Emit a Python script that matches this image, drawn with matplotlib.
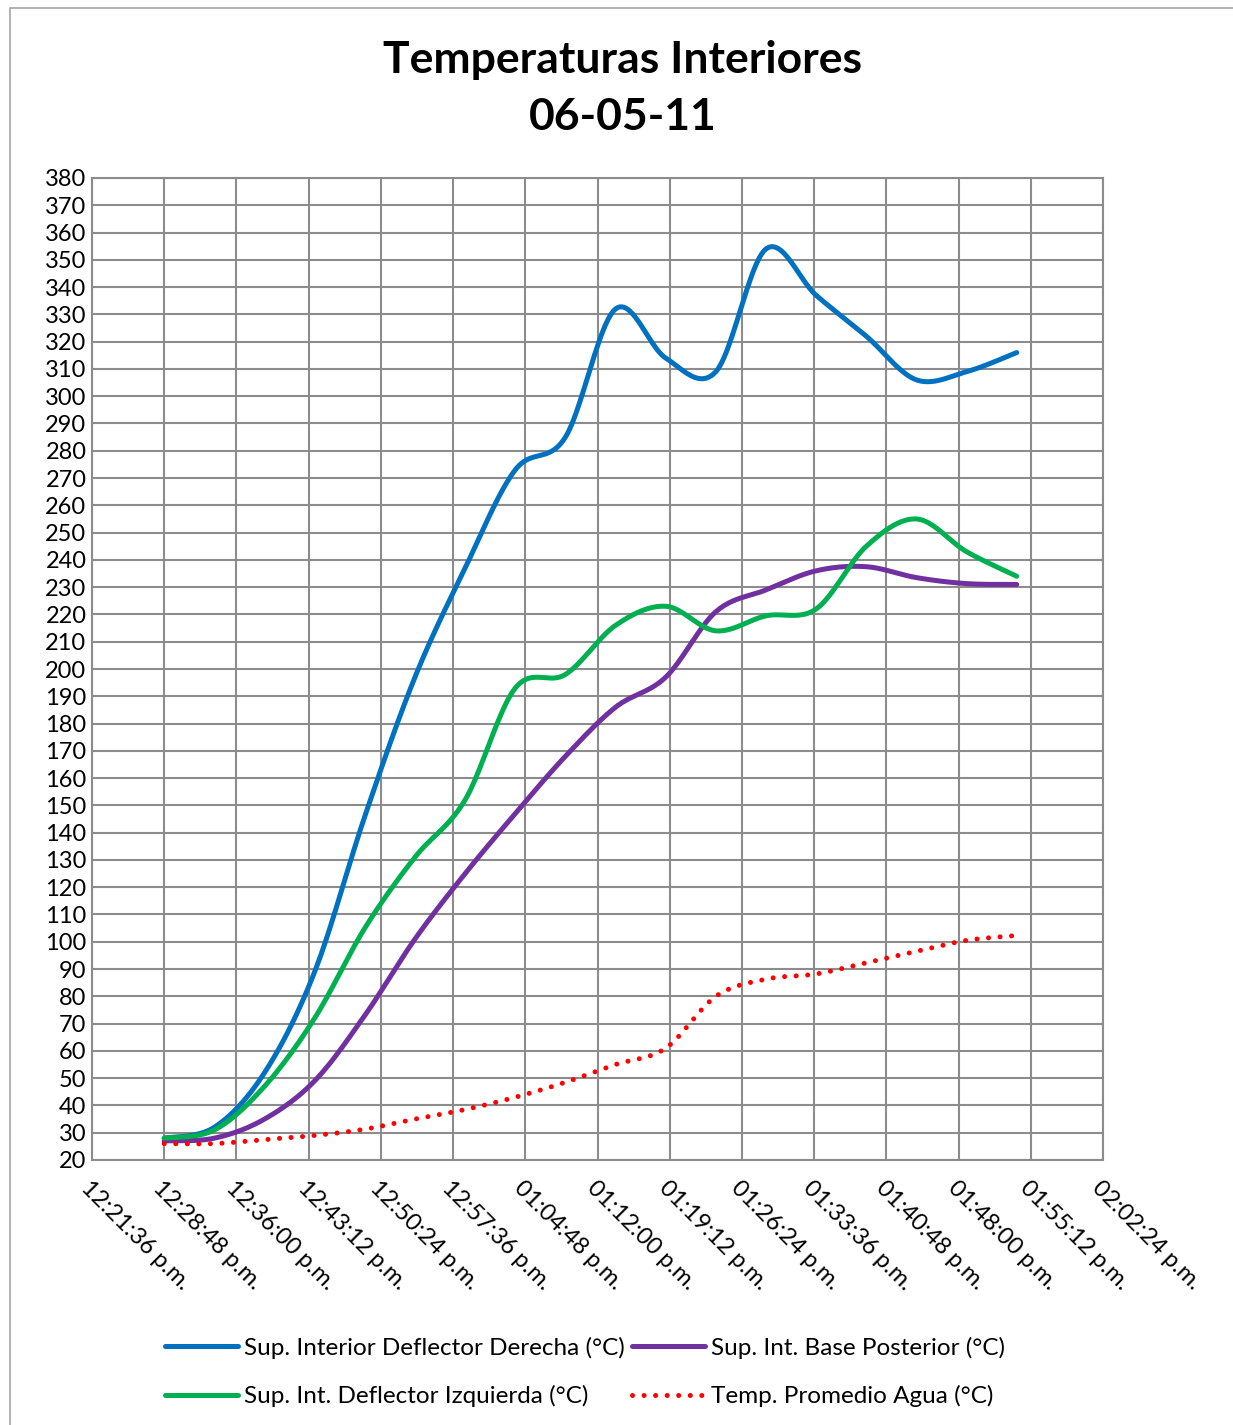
import numpy as np
import pandas as pd
import matplotlib
matplotlib.use('Agg')
import matplotlib.pyplot as plt
import matplotlib.dates as mdates
from matplotlib.ticker import FixedLocator, FuncFormatter
from matplotlib.patches import Rectangle

plt.rcParams['font.family'] = ['Lato', 'DejaVu Sans']

# horas de medicion (cada 5 min)
horas = ['12:28:48', '12:33:48', '12:38:48', '12:43:48', '12:48:48', '12:53:48',
         '12:58:48', '13:03:48', '13:08:48', '13:13:48', '13:18:48', '13:23:48',
         '13:28:48', '13:33:48', '13:38:48', '13:43:48', '13:48:48', '13:53:48']

deflector_der = [28, 32, 52, 89, 146, 197, 237, 273, 285, 332, 314, 309,
                 354, 337, 322, 306, 309, 316]
base_post = [27, 28, 35, 49, 73, 101, 125, 147, 168, 186, 197, 221,
             229, 236, 237.5, 233.5, 231.3, 231]
deflector_izq = [28, 31, 47, 72, 105, 131, 152, 193, 198, 216, 223, 214,
                 219.5, 222, 245, 255, 243, 234]
agua = [26, 26, 27.5, 29, 31.3, 35, 38.5, 43, 48.5, 55, 61, 80,
        86.3, 88.2, 92.3, 96.5, 100.5, 102.3]

nombres = ['Sup. Interior Deflector Derecha (°C)', 'Sup. Int. Base Posterior (°C)',
           'Sup. Int. Deflector Izquierda (°C)', 'Temp. Promedio Agua (°C)']

x = mdates.date2num(pd.to_datetime(['2011-05-06 ' + h for h in horas]))


def suavizar(xs, ys, n=24):
    # curva suavizada tipo Excel (bezier con tangentes catmull-rom)
    p = np.column_stack([xs, ys]).astype(float)
    p = np.vstack([p[0], p, p[-1]])
    t = np.linspace(0, 1, n, endpoint=False)[:, None]
    segs = []
    for i in range(1, len(p) - 2):
        p0, p1, p2, p3 = p[i - 1], p[i], p[i + 1], p[i + 2]
        b1 = p1 + (p2 - p0) / 6
        b2 = p2 - (p3 - p1) / 6
        segs.append((1 - t) ** 3 * p1 + 3 * (1 - t) ** 2 * t * b1
                    + 3 * (1 - t) * t ** 2 * b2 + t ** 3 * p2)
    segs.append(p[-2][None, :])
    c = np.vstack(segs)
    return c[:, 0], c[:, 1]


fig = plt.figure(figsize=(12.33, 14.25), dpi=100)
fig.patches.append(Rectangle((10 / 1233, -0.01), 1.1, 1 - 8 / 1425 + 0.01,
                             transform=fig.transFigure, fill=False,
                             edgecolor='#a6a6a6', lw=1.2))
ax = fig.add_axes([92 / 1233, 1 - 1160 / 1425, 1011 / 1233, 982 / 1425])

series = [(deflector_der, '#0070C0', '-'), (base_post, '#7030A0', '-'),
          (deflector_izq, '#00B050', '-'), (agua, '#FF0000', (0, (0.01, 2.3)))]
lineas = []
for (vals, col, ls), nom in zip(series, nombres):
    sx, sy = suavizar(x, vals)
    l, = ax.plot(sx, sy, color=col, lw=3.6, ls=ls, solid_capstyle='round',
                 dash_capstyle='round', label=nom)
    lineas.append(l)

x0 = mdates.date2num(pd.Timestamp('2011-05-06 12:21:36'))
ticks = x0 + np.arange(15) * 0.005
ax.set_xlim(ticks[0], ticks[-1])
ax.set_ylim(20, 380)
ax.xaxis.set_major_locator(FixedLocator(ticks))
ax.set_yticks(np.arange(20, 381, 10))


def fmt_hora(v, pos):
    s = int(round((v % 1) * 86400))
    h, m, s = s // 3600, (s % 3600) // 60, s % 60
    return f'{h % 12 or 12:02d}:{m:02d}:{s:02d} p.m.'


ax.xaxis.set_major_formatter(FuncFormatter(fmt_hora))
ax.grid(True, color='#8c8c8c', lw=1.5)
for sp in ax.spines.values():
    sp.set_color('#8c8c8c')
    sp.set_linewidth(1.5)
ax.tick_params(length=0, labelsize=17, pad=4)
ax.tick_params(axis='x', pad=12)
for lab in ax.get_xticklabels():
    lab.set_rotation(-45)
    lab.set_ha('left')
    lab.set_va('top')
    lab.set_rotation_mode('anchor')

fig.text(0.505, 1 - 60 / 1425, 'Temperaturas Interiores', ha='center', va='center',
         fontsize=32, fontweight='bold')
fig.text(0.505, 1 - 117 / 1425, '06-05-11', ha='center', va='center',
         fontsize=32, fontweight='bold')

orden = [lineas[0], lineas[2], lineas[1], lineas[3]]
fig.legend(orden, [l.get_label() for l in orden], ncol=2, loc='center',
           bbox_to_anchor=(585 / 1233, 1 - 1372 / 1425), frameon=False,
           fontsize=17.5, handlelength=3.0, handletextpad=0.25, columnspacing=0.3,
           labelspacing=1.1)

fig.savefig('out.png', dpi=100)
